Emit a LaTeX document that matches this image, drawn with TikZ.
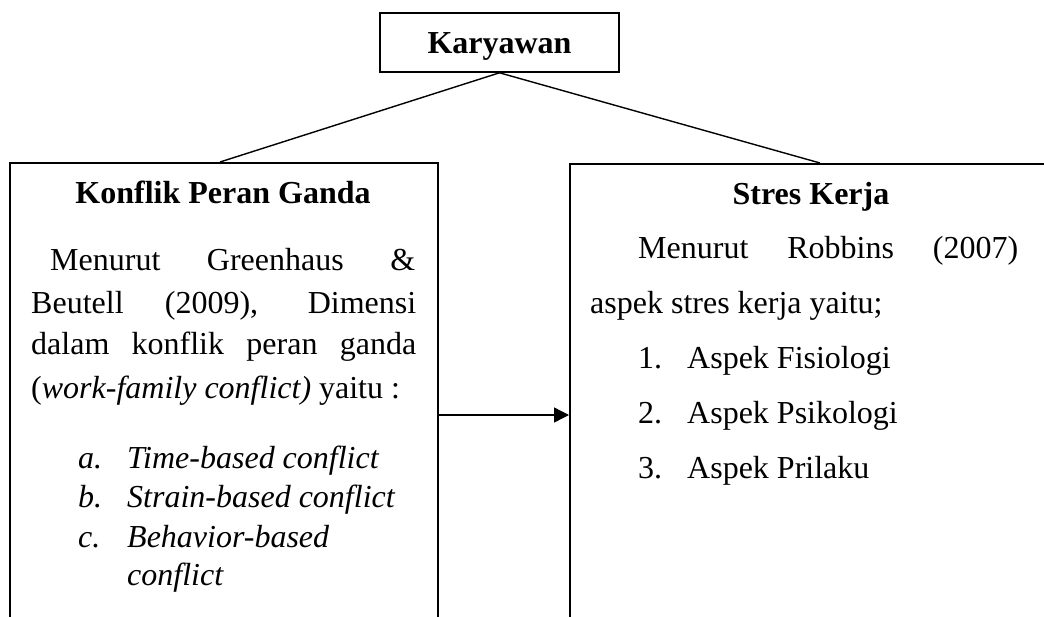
\documentclass[tikz,border=0pt]{standalone}
\usepackage{fontspec}
\setmainfont{Liberation Serif}
\usetikzlibrary{arrows.meta,calc}
\begin{document}
\begin{tikzpicture}[x=1pt,y=-1pt,
  every node/.style={font=\fontsize{32pt}{38pt}\selectfont, inner sep=0pt},
  frame/.style={draw=black, line width=1.6pt, rectangle, inner sep=0pt},
  conn/.style={draw=black, line width=1.4pt},
  arr/.style={conn, -{Triangle[length=15pt,width=15pt]}},
  txt/.style={anchor=base west},
  ttl/.style={anchor=base, font=\fontsize{32pt}{38pt}\selectfont\bfseries}
]
\useasboundingbox (0,0) rectangle (1044,616);
% top box
\node[frame, anchor=base, minimum width=239pt, text height=40pt, text depth=19pt,
      font=\fontsize{32pt}{38pt}\selectfont\bfseries] (kary) at (499.5,53) {Karyawan};
% side boxes
\node[frame, anchor=north west, minimum width=428pt, minimum height=480pt] (left) at (9,162) {};
\node[frame, anchor=north west, minimum width=484pt, minimum height=480pt] (right) at (569,163) {};
% connectors
\coordinate (ltop) at ($(left.north west)+(211,0)$);
\coordinate (rtop) at ($(right.north west)+(251,0)$);
\draw[conn] (kary.south) -- (ltop);
\draw[conn] (kary.south) -- (rtop);
\coordinate (arrow y) at (0,415);
\draw[arr] (left.east |- arrow y) -- (right.west |- arrow y);
% left box text
\node[ttl] (lt) at (223,203) {Konflik Peran Ganda};
\node[txt] (l1) at (50,270) {\makebox[365pt][s]{Menurut Greenhaus \&}};
\node[txt] (l2) at (31,313) {\makebox[385pt][s]{Beutell (2009), Dimensi}};
\node[txt] (l3) at (31,354) {\makebox[385pt][s]{dalam konflik peran ganda}};
\node[txt] (l4) at (31,398) {(\textit{work-family conflict)} yaitu :};
\node[txt] (la) at (78,468) {\textit{a.}};
\node[txt] (lat) at (127,468) {\textit{Time-based conflict}};
\node[txt] (lb) at (78,507) {\textit{b.}};
\node[txt] (lbt) at (127,507) {\textit{Strain-based conflict}};
\node[txt] (lc) at (78,547) {\textit{c.}};
\node[txt] (lct) at (127,547) {\textit{Behavior-based}};
\node[txt] (lct2) at (127,585) {\textit{conflict}};
% right box text
\node[ttl] (rt) at (811,204) {Stres Kerja};
\node[txt] (r1) at (638,258) {\makebox[380pt][s]{Menurut Robbins (2007)}};
\node[txt] (r2) at (590,313) {aspek stres kerja yaitu;};
\node[txt] (r3n) at (638,368) {1.};
\node[txt] (r3) at (687,368) {Aspek Fisiologi};
\node[txt] (r4n) at (638,423) {2.};
\node[txt] (r4) at (687,423) {Aspek Psikologi};
\node[txt] (r5n) at (638,478) {3.};
\node[txt] (r5) at (687,478) {Aspek Prilaku};
\end{tikzpicture}
\end{document}
